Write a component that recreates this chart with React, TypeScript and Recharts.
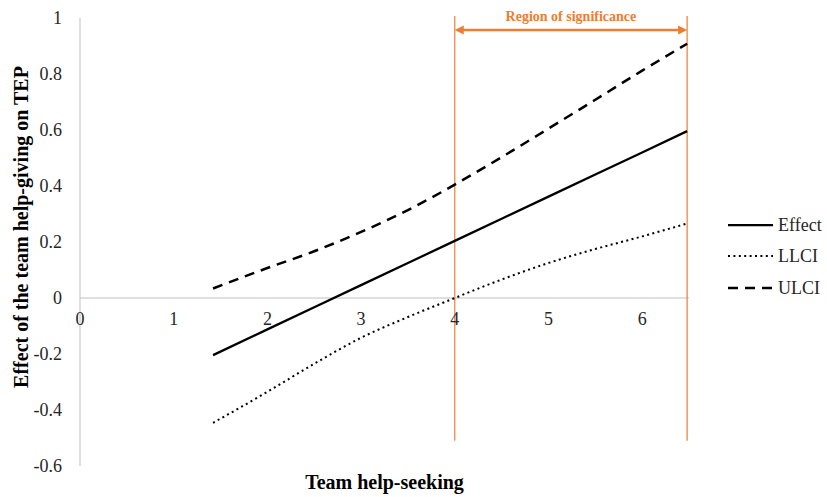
import React from "react";
import { LineChart, Line, XAxis, YAxis, ReferenceLine, Legend, Label } from "recharts";

const xs = [1.42, 2, 2.5, 3, 3.5, 4, 4.5, 5, 5.5, 6, 6.48];
const effect = [-0.204, -0.112, -0.033, 0.046, 0.125, 0.204, 0.283, 0.362, 0.441, 0.52, 0.596];
const llci = [-0.446, -0.335, -0.235, -0.142, -0.068, 0.0, 0.066, 0.125, 0.175, 0.22, 0.266];
const ulci = [0.034, 0.107, 0.167, 0.236, 0.314, 0.405, 0.503, 0.605, 0.708, 0.812, 0.908];

const xTicks = [0, 1, 2, 3, 4, 5, 6];
const yTicks = [-0.6, -0.4, -0.2, 0, 0.2, 0.4, 0.6, 0.8, 1];

const regionStart = 4;
const regionEnd = 6.48;
const regionArrowY = 0.957;
const regionLabel = "Region of significance";

const data = xs.map((x, i) => ({ x, Effect: effect[i], LLCI: llci[i], ULCI: ulci[i] }));

const FONT = "'Liberation Serif', 'Times New Roman', serif";
const ORANGE = "#ED7D31";
const GRAY = "#BFBFBF";
const TEXT = "#262626";

const styles: Record<string, { dash?: string; width: number }> = {
  Effect: { width: 2.25 },
  LLCI: { dash: "2 3.4", width: 2 },
  ULCI: { dash: "10 7", width: 2.5 },
};

const XTick = (props: any) => {
  const { x, y, payload } = props;
  return (
    <text x={x} y={y - 149} textAnchor="middle" fontFamily={FONT} fontSize={18} fill={TEXT}>
      {payload.value}
    </text>
  );
};

const YTick = (props: any) => {
  const { x, y, payload } = props;
  return (
    <text x={x} y={y + 6} textAnchor="end" fontFamily={FONT} fontSize={18} fill={TEXT}>
      {String(payload.value)}
    </text>
  );
};

const ArrowShape = (props: any) => {
  const { x1, y1, x2, y2 } = props;
  const ah = 9;
  const aw = 4.5;
  return (
    <g>
      <line x1={x1 + ah - 1} y1={y1} x2={x2 - ah + 1} y2={y2} stroke={ORANGE} strokeWidth={2.5} />
      <polygon points={`${x1},${y1} ${x1 + ah},${y1 - aw} ${x1 + ah},${y1 + aw}`} fill={ORANGE} />
      <polygon points={`${x2},${y2} ${x2 - ah},${y2 - aw} ${x2 - ah},${y2 + aw}`} fill={ORANGE} />
      <text
        x={(x1 + x2) / 2}
        y={y1 - 9}
        textAnchor="middle"
        fontFamily={FONT}
        fontSize={14}
        fontWeight="bold"
        fill={ORANGE}
      >
        {regionLabel}
      </text>
    </g>
  );
};

const LegendContent = (props: any) => {
  const { payload } = props;
  return (
    <div>
      {payload.map((p: any) => {
        const s = styles[p.value];
        return (
          <div key={p.value} style={{ display: "flex", alignItems: "center", height: 31.5 }}>
            <svg width={48} height={10} style={{ display: "block" }}>
              <line
                x1={0}
                y1={5}
                x2={45}
                y2={5}
                stroke="#000"
                strokeWidth={s.width}
                strokeDasharray={s.dash}
              />
            </svg>
            <span style={{ fontFamily: FONT, fontSize: 18, color: TEXT, marginLeft: 2, lineHeight: "20px" }}>
              {p.value}
            </span>
          </div>
        );
      })}
    </div>
  );
};

export default function App() {
  return (
    <div style={{ position: "absolute", left: 0, top: 0, width: 827, height: 497, background: "#fff" }}>
      <LineChart
        width={827}
        height={497}
        data={data}
        margin={{ top: 18, right: 39, bottom: 0, left: 0 }}
      >
        <XAxis
          dataKey="x"
          type="number"
          domain={[0, 6.5]}
          ticks={xTicks}
          axisLine={false}
          tickLine={false}
          tick={<XTick />}
          height={31}
          interval={0}
        >
          <Label
            content={(p: any) => {
              const vb = p.viewBox;
              return (
                <text
                  x={vb.x + vb.width / 2}
                  y={vb.y + 23}
                  textAnchor="middle"
                  fontFamily={FONT}
                  fontSize={20}
                  fontWeight="bold"
                  fill="#000"
                >
                  Team help-seeking
                </text>
              );
            }}
          />
        </XAxis>
        <YAxis
          type="number"
          domain={[-0.6, 1]}
          ticks={yTicks}
          width={80}
          axisLine={{ stroke: GRAY, strokeWidth: 1 }}
          tickLine={false}
          tick={<YTick />}
          tickSize={0}
          tickMargin={18}
          interval={0}
        >
          <Label
            content={(p: any) => {
              const vb = p.viewBox;
              const cx = 21;
              const cy = vb.y + vb.height / 2 - 15;
              return (
                <text
                  x={cx}
                  y={cy}
                  transform={`rotate(-90, ${cx}, ${cy})`}
                  textAnchor="middle"
                  dominantBaseline="central"
                  fontFamily={FONT}
                  fontSize={20}
                  fontWeight="bold"
                  fill="#000"
                >
                  Effect of the team help-giving on TEP
                </text>
              );
            }}
          />
        </YAxis>
        <ReferenceLine y={0} stroke={GRAY} strokeWidth={1} />
        <ReferenceLine
          segment={[{ x: regionStart, y: -0.51 }, { x: regionStart, y: 1.007 }]}
          stroke={ORANGE}
          strokeWidth={1.2}
          ifOverflow="visible"
        />
        <ReferenceLine
          segment={[{ x: regionEnd, y: -0.51 }, { x: regionEnd, y: 1.007 }]}
          stroke={ORANGE}
          strokeWidth={1.2}
          ifOverflow="visible"
        />
        <ReferenceLine
          segment={[{ x: regionStart, y: regionArrowY }, { x: regionEnd, y: regionArrowY }]}
          ifOverflow="visible"
          shape={<ArrowShape />}
        />
        <Line
          dataKey="Effect"
          type="linear"
          stroke="#000"
          strokeWidth={styles.Effect.width}
          dot={false}
          isAnimationActive={false}
        />
        <Line
          dataKey="LLCI"
          type="monotone"
          stroke="#000"
          strokeWidth={styles.LLCI.width}
          strokeDasharray={styles.LLCI.dash}
          dot={false}
          isAnimationActive={false}
        />
        <Line
          dataKey="ULCI"
          type="monotone"
          stroke="#000"
          strokeWidth={styles.ULCI.width}
          strokeDasharray={styles.ULCI.dash}
          dot={false}
          isAnimationActive={false}
        />
        <Legend
          layout="vertical"
          align="right"
          verticalAlign="top"
          content={<LegendContent />}
          wrapperStyle={{ position: "absolute", left: 728, top: 209, width: 99 }}
        />
      </LineChart>
    </div>
  );
}
